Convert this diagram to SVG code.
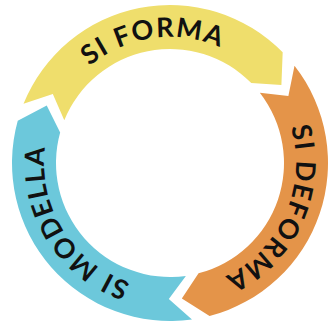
<svg xmlns="http://www.w3.org/2000/svg" xmlns:xlink="http://www.w3.org/1999/xlink" width="330" height="325" viewBox="0 0 330 325">
  <style>
    .lbl { font-family: Lato, "Liberation Sans", sans-serif; font-weight: 700; font-size: 27px; fill: #111; letter-spacing: 1.5px; }
    .yellow { fill: #EFDE6C; }
    .orange { fill: #E49449; }
    .blue { fill: #6CC8DB; }
  </style>
  <defs>
    <path id="ring" d="M 170,289 A 126 126 0 1 1 170,37 A 126 126 0 1 1 170,289"/>
  </defs>
  <rect width="330" height="325" fill="#fff"/>
  <g id="si-modella">
    <path class="blue" d="M 191.99,319.46 A 158 158 0 0 1 17.75,120.78 L 46.74,105.52 L 60.15,132.53 A 114 114 0 0 0 185.87,275.89 L 168.81,298.99 Z"/>
    <text class="lbl"><textPath xlink:href="#ring" href="#ring" startOffset="127.6" text-anchor="middle">SI MODELLA</textPath></text>
  </g>
  <g id="si-forma">
    <path class="yellow" d="M 23.51,103.81 A 158 158 0 0 1 282.69,52.26 L 281.40,84.99 L 251.31,83.10 A 114 114 0 0 0 64.30,120.29 L 52.82,93.97 Z"/>
    <text class="lbl"><textPath xlink:href="#ring" href="#ring" startOffset="378.3" text-anchor="middle">SI FORMA</textPath></text>
  </g>
  <g id="si-deforma">
    <path class="orange" d="M 294.51,65.73 A 158 158 0 0 1 209.56,315.97 L 181.85,298.48 L 198.54,273.37 A 114 114 0 0 0 259.83,92.81 L 288.37,96.03 Z"/>
    <text class="lbl"><textPath xlink:href="#ring" href="#ring" startOffset="646.5" text-anchor="middle">SI DEFORMA</textPath></text>
  </g>
  <g id="connectors"/>
</svg>
